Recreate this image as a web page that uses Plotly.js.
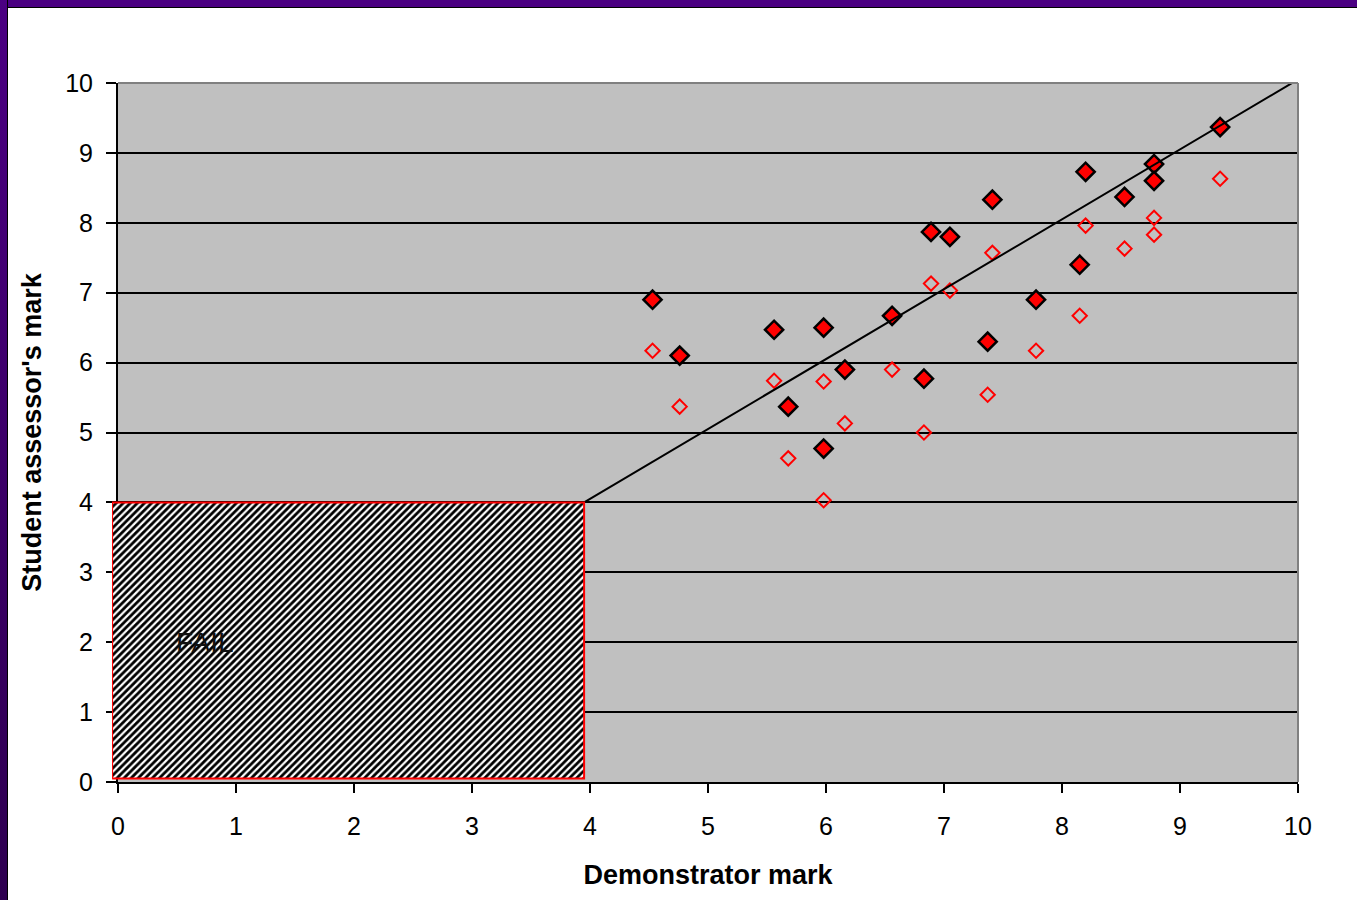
<!DOCTYPE html>
<html>
<head>
<meta charset="utf-8">
<script src="https://cdn.plot.ly/plotly-3.0.1.min.js"></script>
<style>
html,body{margin:0;padding:0;background:#ffffff;}
#wrap{position:relative;width:1357px;height:900px;overflow:hidden;background:#ffffff;}
#chart{position:absolute;left:0;top:0;width:1357px;height:900px;}
#bTop{position:absolute;left:0;top:0;width:1357px;height:7px;background:#4B0082;border-bottom:1px solid #000;z-index:5;}
#bLeft{position:absolute;left:0;top:0;width:7px;height:900px;background:linear-gradient(#4B0082,#2E0050);border-right:1px solid #000;z-index:6;}
</style>
</head>
<body>
<div id="wrap">
  <div id="chart"></div>
  <div id="bTop"></div>
  <div id="bLeft"></div>
</div>
<script>
// ---- data ----
const demonstratorMark = [4.53, 4.76, 5.56, 5.68, 5.98, 5.98, 6.16, 6.56, 6.83, 6.89, 7.05, 7.37, 7.41, 7.78, 8.15, 8.20, 8.53, 8.78, 8.78, 9.34];
const assessorMarkFilled = [6.90, 6.10, 6.47, 5.37, 6.50, 4.77, 5.90, 6.67, 5.77, 7.87, 7.80, 6.30, 8.33, 6.90, 7.40, 8.73, 8.37, 8.84, 8.60, 9.37];
const assessorMarkOpen   = [6.17, 5.37, 5.74, 4.63, 5.73, 4.03, 5.13, 5.90, 5.00, 7.13, 7.03, 5.54, 7.57, 6.17, 6.67, 7.96, 7.63, 8.07, 7.83, 8.63];
const refLineX = [3.95, 10];
const refLineY = [4.0, 10.05];
const failRegionX = [-0.05, 3.95];
const failRegionY = [0.05, 4.0];
const failLabel = 'FAIL';
const failLabelPos = [0.74, 2.0];
const tickVals = [0, 1, 2, 3, 4, 5, 6, 7, 8, 9, 10];
const tickText = ['0', '1', '2', '3', '4', '5', '6', '7', '8', '9', '10'];
const axisRange = [0, 10];
const xTitle = 'Demonstrator mark';
const yTitle = "Student assessor's mark";

// ---- layout geometry ----
const W = 1357, H = 900;
const mL = 112, mR = 59, mT = 83, mB = 118;
const plotW = W - mL - mR;
const leftPad = 6; // px between overlay start and main axis
const pxPerUnit = (plotW - leftPad) / (axisRange[1] - axisRange[0]);
const overlayRange = [axisRange[0] - leftPad / pxPerUnit, axisRange[1]];

const FONT = 'Liberation Sans, Arial, Helvetica, sans-serif';

const failX = [failRegionX[0], failRegionX[1], failRegionX[1], failRegionX[0], failRegionX[0]];
const failY = [failRegionY[0], failRegionY[0], failRegionY[1], failRegionY[1], failRegionY[0]];

const traces = [
  {
    x: demonstratorMark, y: assessorMarkOpen, type: 'scatter', mode: 'markers',
    marker: {symbol: 'diamond-open', size: 11, color: '#FF0000', line: {color: '#FF0000', width: 2}},
    xaxis: 'x', yaxis: 'y', cliponaxis: false
  },
  {
    x: demonstratorMark, y: assessorMarkFilled, type: 'scatter', mode: 'markers',
    marker: {symbol: 'diamond', size: 14, color: '#FF0000', line: {color: '#000000', width: 2.5}},
    xaxis: 'x', yaxis: 'y', cliponaxis: false
  },
  {
    x: refLineX, y: refLineY, type: 'scatter', mode: 'lines',
    line: {color: '#000000', width: 2},
    xaxis: 'x', yaxis: 'y'
  },
  {
    x: failX, y: failY, type: 'scatter', mode: 'lines', fill: 'toself',
    fillcolor: '#ffffff',
    fillpattern: {shape: '/', fgcolor: '#000000', bgcolor: '#ffffff', size: 5, solidity: 0.55},
    line: {color: '#FF0000', width: 2},
    xaxis: 'x2', yaxis: 'y2'
  }
];

const layout = {
  width: W, height: H,
  margin: {l: mL, r: mR, t: mT, b: mB, pad: 0},
  paper_bgcolor: '#ffffff',
  plot_bgcolor: 'rgba(0,0,0,0)',
  showlegend: false,
  hovermode: false,
  font: {family: FONT, color: '#000000', size: 25},
  xaxis: {
    domain: [leftPad / plotW, 1],
    range: axisRange, tickvals: tickVals, ticktext: tickText,
    ticks: 'outside', ticklen: 9, tickwidth: 2, tickcolor: '#000000',
    showline: true, linecolor: '#000000', linewidth: 2,
    showgrid: false, zeroline: false,
    tickfont: {family: FONT, size: 25, color: '#000000'},
    ticklabelstandoff: 12,
    title: {text: xTitle, font: {family: FONT, size: 27, color: '#000000', weight: 'bold'}, standoff: 26},
    anchor: 'y', fixedrange: true
  },
  yaxis: {
    domain: [0, 1],
    range: axisRange, tickvals: tickVals, ticktext: tickText,
    ticks: 'outside', ticklen: 10, tickwidth: 2, tickcolor: '#000000',
    showline: true, linecolor: '#000000', linewidth: 2,
    showgrid: true, gridcolor: '#000000', gridwidth: 2, zeroline: false,
    tickfont: {family: FONT, size: 25, color: '#000000'},
    ticklabelstandoff: 8,
    title: {text: yTitle, font: {family: FONT, size: 27, color: '#000000', weight: 'bold'}, standoff: 16},
    anchor: 'x', fixedrange: true
  },
  xaxis2: {domain: [0, 1], range: overlayRange, visible: false, anchor: 'y2', fixedrange: true},
  yaxis2: {domain: [0, 1], range: axisRange, visible: false, anchor: 'x2', fixedrange: true},
  shapes: [
    {type: 'rect', xref: 'x domain', yref: 'y domain', x0: 0, x1: 1, y0: 0, y1: 1,
     fillcolor: '#C0C0C0', line: {width: 0}, layer: 'below'},
    {type: 'line', xref: 'x domain', yref: 'y domain', x0: 0, x1: 1, y0: 1, y1: 1,
     line: {color: '#808080', width: 2}, layer: 'above'},
    {type: 'line', xref: 'x domain', yref: 'y domain', x0: 1, x1: 1, y0: 0, y1: 1,
     line: {color: '#808080', width: 2}, layer: 'above'}
  ],
  annotations: [
    {x: failLabelPos[0], y: failLabelPos[1], xref: 'x', yref: 'y', text: failLabel, showarrow: false,
     font: {family: FONT, size: 28, color: '#111111'}, xanchor: 'center', yanchor: 'middle'}
  ]
};

Plotly.newPlot('chart', traces, layout, {staticPlot: true, displayModeBar: false});
</script>
</body>
</html>
